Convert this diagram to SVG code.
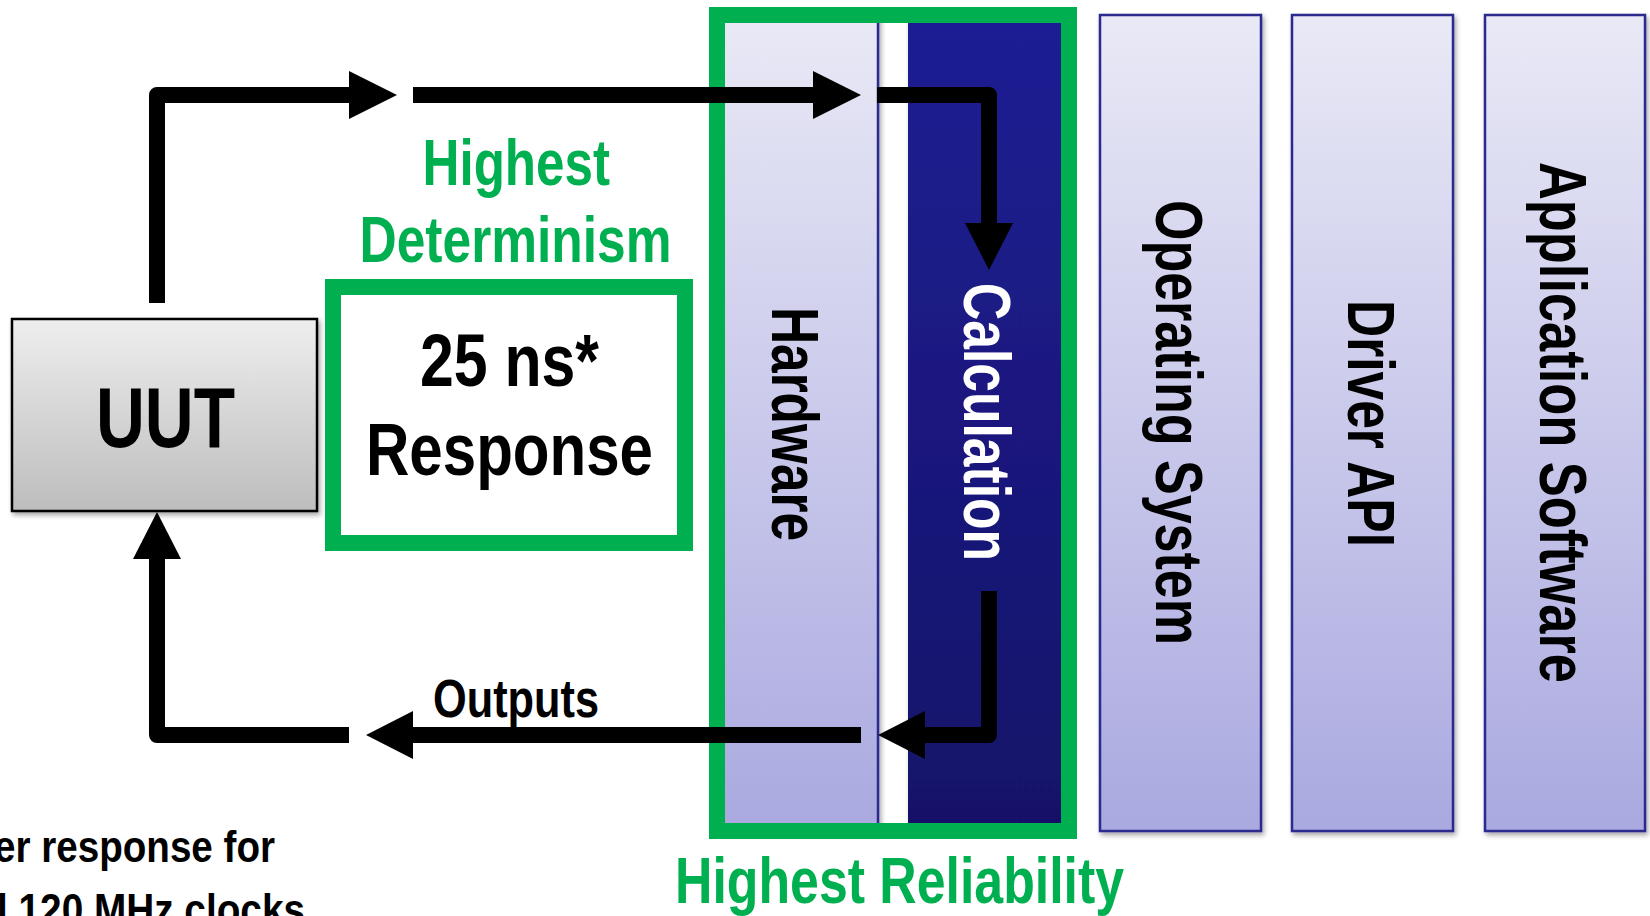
<svg xmlns="http://www.w3.org/2000/svg" width="1650" height="916" viewBox="0 0 1650 916">
<defs>
<linearGradient id="gLight" x1="0" y1="0" x2="0" y2="1"><stop offset="0" stop-color="#e9e9f6"/><stop offset="1" stop-color="#aaa9e0"/></linearGradient>
<linearGradient id="gDark" x1="0" y1="0" x2="0" y2="1"><stop offset="0" stop-color="#1f1f94"/><stop offset="1" stop-color="#151168"/></linearGradient>
<linearGradient id="gGray" x1="0" y1="0" x2="0" y2="1"><stop offset="0" stop-color="#eeeeee"/><stop offset="1" stop-color="#bdbdbd"/></linearGradient>
<filter id="sh" x="-10%" y="-5%" width="125%" height="115%"><feDropShadow dx="2" dy="3" stdDeviation="2.5" flood-color="#000" flood-opacity="0.35"/></filter>
<style>
.col{fill:url(#gLight);stroke:#2b2b8f;stroke-width:2.5}
.t{font-family:"Liberation Sans",Arial,sans-serif;font-weight:bold}
.blk{fill:#000}
.grn{fill:#00b050}
.wht{fill:#fff}
.frame{fill:none;stroke:#00b050;stroke-width:16}
.ln{fill:none;stroke:#000;stroke-width:16;stroke-linejoin:round;stroke-linecap:butt}
.hd{fill:#000}
</style>
</defs>
<rect width="1650" height="916" fill="#fff"/>

<g id="hardware">
<rect class="col" x="718" y="15" width="160" height="816" filter="url(#sh)"/>
<text class="t blk" font-size="66" transform="translate(772,424) rotate(90)" x="-117" y="0" textLength="234" lengthAdjust="spacingAndGlyphs">Hardware</text>
</g>
<g id="calculation">
<rect x="908" y="15" width="160" height="816" fill="url(#gDark)" filter="url(#sh)"/>
<text class="t wht" font-size="66" transform="translate(964,422) rotate(90)" x="-139" y="0" textLength="278" lengthAdjust="spacingAndGlyphs">Calculation</text>
</g>
<g id="operating-system">
<rect class="col" x="1100" y="15" width="161" height="816" filter="url(#sh)"/>
<text class="t blk" font-size="66" transform="translate(1156,422.5) rotate(90)" x="-222.5" y="0" textLength="445" lengthAdjust="spacingAndGlyphs">Operating System</text>
</g>
<g id="driver-api">
<rect class="col" x="1292" y="15" width="161" height="816" filter="url(#sh)"/>
<text class="t blk" font-size="66" transform="translate(1348,423.5) rotate(90)" x="-123.5" y="0" textLength="247" lengthAdjust="spacingAndGlyphs">Driver API</text>
</g>
<g id="application-software">
<rect class="col" x="1485" y="15" width="160" height="816" filter="url(#sh)"/>
<text class="t blk" font-size="66" transform="translate(1540,422.5) rotate(90)" x="-260.5" y="0" textLength="521" lengthAdjust="spacingAndGlyphs">Application Software</text>
</g>

<g id="reliability-frame">
<rect class="frame" x="717" y="15" width="352" height="816"/>
<text class="t grn" font-size="64" x="675" y="903" textLength="449" lengthAdjust="spacingAndGlyphs">Highest Reliability</text>
</g>

<g id="uut">
<rect x="12" y="319" width="305" height="192" fill="url(#gGray)" stroke="#000" stroke-width="2.5" filter="url(#sh)"/>
<text class="t blk" font-size="85" x="96" y="447" textLength="139" lengthAdjust="spacingAndGlyphs">UUT</text>
</g>

<g id="response">
<rect class="frame" x="333" y="287" width="352" height="256"/>
<text class="t blk" font-size="74" x="420" y="386" textLength="179" lengthAdjust="spacingAndGlyphs">25 ns*</text>
<text class="t blk" font-size="74" x="366" y="475" textLength="287" lengthAdjust="spacingAndGlyphs">Response</text>
</g>

<g id="determinism-label">
<text class="t grn" font-size="64" x="422.5" y="185" textLength="187.5" lengthAdjust="spacingAndGlyphs">Highest</text>
<text class="t grn" font-size="64" x="359.5" y="262" textLength="312" lengthAdjust="spacingAndGlyphs">Determinism</text>
</g>

<g id="connectors">
<path class="ln" d="M157,303 V95 H352"/>
<polygon class="hd" points="349,71 397,95 349,119"/>
<path class="ln" d="M413,95 H816"/>
<polygon class="hd" points="813,71 861,95 813,119"/>
<path class="ln" d="M877,95 H989 V226"/>
<polygon class="hd" points="965,223 1013,223 989,270"/>
<path class="ln" d="M989,591 V735 H922"/>
<polygon class="hd" points="925,711 878,735 925,759"/>
<path class="ln" d="M861,735 H410"/>
<polygon class="hd" points="413,711 366,735 413,759"/>
<path class="ln" d="M349,735 H157 V556"/>
<polygon class="hd" points="133,559 181,559 157,512"/>
<text class="t blk" font-size="53" x="433" y="717" textLength="166" lengthAdjust="spacingAndGlyphs">Outputs</text>
</g>

<g id="footnote">
<text class="t blk" font-size="45" x="-6" y="862" textLength="281" lengthAdjust="spacingAndGlyphs">er response for</text>
<text class="t blk" font-size="45" x="-3" y="925" textLength="308" lengthAdjust="spacingAndGlyphs">l 120 MHz clocks</text>
</g>
</svg>
